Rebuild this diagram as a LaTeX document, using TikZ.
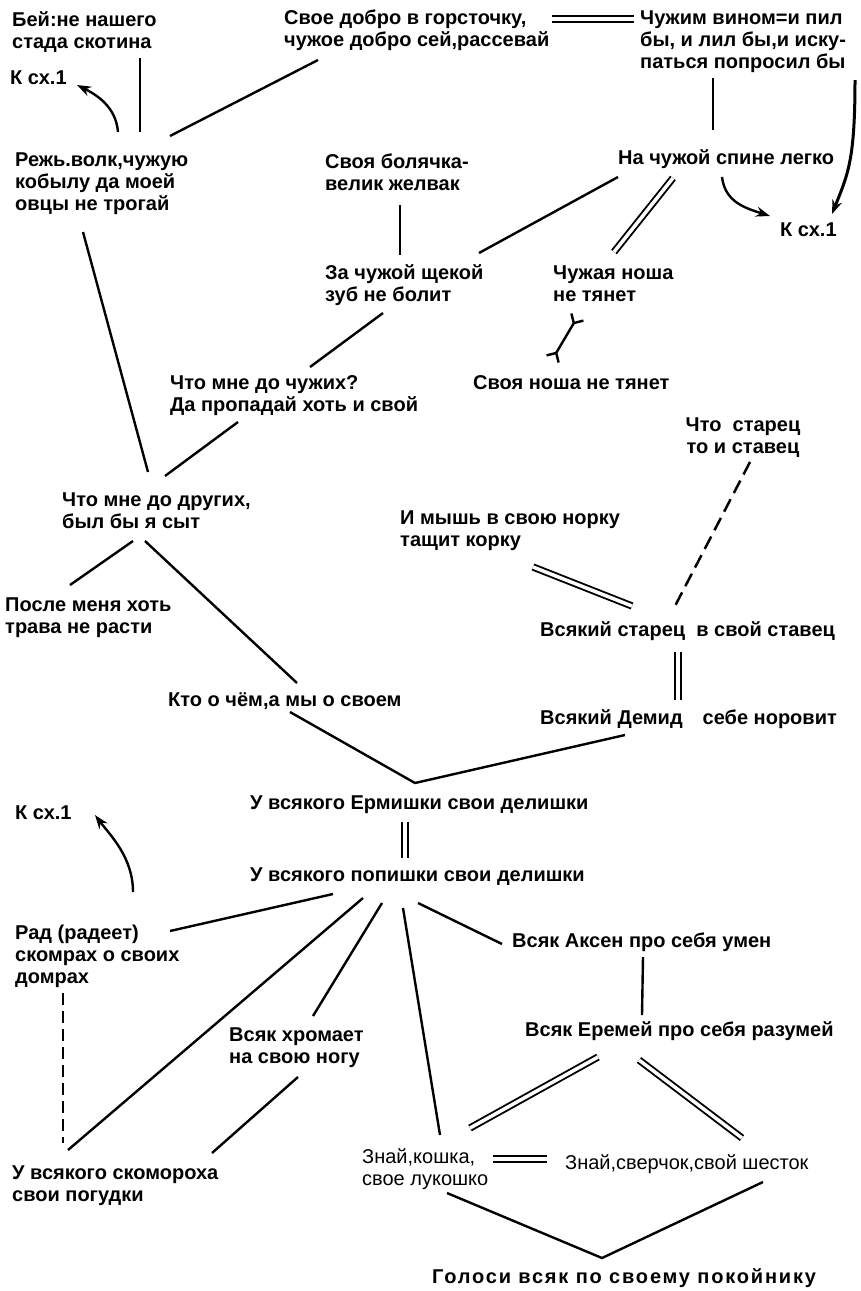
\documentclass[tikz,border=0pt]{standalone}
\usepackage{fontspec}
\setmainfont{Liberation Sans}
\usetikzlibrary{arrows.meta}
\begin{document}
\begin{tikzpicture}[x=1pt,y=-1pt,
  txt/.style={inner sep=0pt, anchor=base west, align=left, font=\fontsize{20}{22}\selectfont\bfseries},
  txtr/.style={txt, font=\fontsize{20}{22}\selectfont},
  ln/.style={line width=2.4pt},
  dbl/.style={double, double distance=3.5pt, line width=1.9pt},
  arr/.style={line width=2.4pt, -{Stealth[length=14pt,width=10pt]}},
  dsh/.style={line width=2.5pt, dash pattern=on 14pt off 7pt},
  fork/.style={line width=2.4pt, {Straight Barb[reversed,length=7pt,width=14pt]}-{Straight Barb[reversed,length=7pt,width=14pt]}}
]
\useasboundingbox[fill=white] (0,0) rectangle (860,1291);

% multi-line nodes are placed at the baseline of their LAST line
\node[txt] (bei) at (12,48) {Бей:не нашего\\стада скотина};
\node[txt] (kcx1a) at (10,84) {К сх.1};
\node[txt] (svoe) at (284,46) {Свое добро в горсточку,\\чужое добро сей,рассевай};
\node[txt] (chuzhim) at (640,68) {Чужим вином=и пил\\бы, и лил бы,и иску-\\паться попросил бы};
\node[txt] (rezh) at (15,210) {Режь.волк,чужую\\кобылу да моей\\овцы не трогай};
\node[txt] (bol) at (325,190) {Своя болячка-\\велик желвак};
\node[txt] (spine) at (618,164) {На чужой спине легко};
\node[txt] (kcx1b) at (780,236) {К сх.1};
\node[txt] (shch) at (325,301) {За чужой щекой\\зуб не болит};
\node[txt] (chn) at (553,301) {Чужая ноша\\не тянет};
\node[txt] (svn) at (473,389) {Своя ноша не тянет};
\node[txt] (chuzhih) at (170,411) {Что мне до чужих?\\Да пропадай хоть и свой};
\node[txt, anchor=base, align=center] (starets) at (743,453) {Что\ \ старец\\то и ставец};
\node[txt] (drugih) at (62,528) {Что мне до других,\\был бы я сыт};
\node[txt] (mysh) at (400,546) {И мышь в свою норку\\тащит корку};
\node[txt] (posle) at (5,633) {После меня хоть\\трава не расти};
\node[txt] (vsst) at (540,636) {Всякий старец\ \ в свой ставец};
\node[txt] (ktoo) at (168,706) {Кто о чём,а мы о своем};
\node[txt] (demid) at (540,724) {Всякий Демид\quad себе норовит};
\node[txt] (ermish) at (250,809) {У всякого Ермишки свои делишки};
\node[txt] (kcx1c) at (15,819) {К сх.1};
\node[txt] (popish) at (250,881) {У всякого попишки свои делишки};
\node[txt] (rad) at (15,983) {Рад (радеет)\\скомрах о своих\\домрах};
\node[txt] (aksen) at (512,947) {Всяк Аксен про себя умен};
\node[txt] (eremei) at (525,1036) {Всяк Еремей про себя разумей};
\node[txt] (hrom) at (229,1063) {Всяк хромает\\на свою ногу};
\node[txt] (skom) at (12,1201) {У всякого скомороха\\свои погудки};
\node[txtr] (koshka) at (362,1185) {Знай,кошка,\\свое лукошко};
\node[txtr] (sverch) at (565,1169) {Знай,сверчок,свой шесток};
\node[txt, font=\fontsize{20}{22}\selectfont\bfseries\addfontfeatures{LetterSpace=9}] (golosi) at (432,1283) {Голоси всяк по своему покойнику};

% top part
\draw[ln] ([shift={(128,10)}]bei.base west) -- ([shift={(125,-78)}]rezh.base west);
\draw[ln] ([shift={(34,14)}]svoe.base west) -- ([shift={(155,-74)}]rezh.base west);
\draw[dbl] ([shift={(268,-27)}]svoe.base west) -- ([shift={(-6,-49)}]chuzhim.base west);
\draw[ln] ([shift={(73,10)}]chuzhim.base west) -- ([shift={(95,-34)}]spine.base west);
\draw[arr, line width=3pt] ([shift={(215,12)}]chuzhim.base west) .. controls +(0,80) and +(16,-40) .. ([shift={(52,-22)}]kcx1b.base west);
\draw[arr] ([shift={(104,13)}]spine.base west) .. controls +(3,25) and +(-25,-8) .. ([shift={(-10,-20)}]kcx1b.base west);
\draw[arr] ([shift={(103,-78)}]rezh.base west) .. controls +(-2,-25) and +(20,10) .. ([shift={(67,1)}]kcx1a.base west);
\draw[ln] ([shift={(75,15)}]bol.base west) -- ([shift={(75,-46)}]shch.base west);
\draw[ln] ([shift={(0,13)}]spine.base west) -- ([shift={(154,-48)}]shch.base west);
\draw[dbl] ([shift={(55,14)}]spine.base west) -- ([shift={(61,-49)}]chn.base west);
\draw[fork] ([shift={(25,15)}]chn.base west) -- ([shift={(79,-29)}]svn.base west);
\draw[ln] ([shift={(58,12)}]shch.base west) -- ([shift={(140,-44)}]chuzhih.base west);
\draw[ln] ([shift={(68,11)}]chuzhih.base west) -- ([shift={(103,-52)}]drugih.base west);
\draw[ln] ([shift={(68,22)}]rezh.base west) -- ([shift={(86,-56)}]drugih.base west);

% middle
\draw[dsh] ([shift={(7,9)}]starets.base) -- ([shift={(135,-30)}]vsst.base west);
\draw[dbl] ([shift={(133,21)}]mysh.base west) -- ([shift={(92,-30)}]vsst.base west);
\draw[dbl] ([shift={(138,16)}]vsst.base west) -- ([shift={(138,-24)}]demid.base west);
\draw[ln] ([shift={(122,6)}]ktoo.base west) -- ([shift={(165,-26)}]ermish.base west) -- ([shift={(85,11)}]demid.base west);
\draw[ln] ([shift={(71,13)}]drugih.base west) -- ([shift={(65,-48)}]posle.base west);
\draw[ln] ([shift={(83,13)}]drugih.base west) -- ([shift={(129,-23)}]ktoo.base west);
\draw[dbl] ([shift={(155,13)}]ermish.base west) -- ([shift={(155,-23)}]popish.base west);

% bottom
\draw[arr] ([shift={(118,-91)}]rad.base west) .. controls +(0,-35) and +(15,20) .. ([shift={(80,-4)}]kcx1c.base west);
\draw[ln] ([shift={(83,13)}]popish.base west) -- ([shift={(155,-52)}]rad.base west);
\draw[ln] ([shift={(113,17)}]popish.base west) -- ([shift={(56,-51)}]skom.base west);
\draw[ln] ([shift={(132,22)}]popish.base west) -- ([shift={(84,-47)}]hrom.base west);
\draw[ln] ([shift={(153,27)}]popish.base west) -- ([shift={(78,-50)}]koshka.base west);
\draw[ln] ([shift={(168,22)}]popish.base west) -- ([shift={(-10,-3)}]aksen.base west);
\draw[ln] ([shift={(131,10)}]aksen.base west) -- ([shift={(117,-21)}]eremei.base west);
\draw[dsh, dash pattern=on 12pt off 6pt] ([shift={(48,10)}]rad.base west) -- ([shift={(51,-58)}]skom.base west);
\draw[ln] ([shift={(69,14)}]hrom.base west) -- ([shift={(200,-48)}]skom.base west);
\draw[dbl] ([shift={(73,21)}]eremei.base west) -- ([shift={(108,-57)}]koshka.base west);
\draw[dbl] ([shift={(114,24)}]eremei.base west) -- ([shift={(177,-31)}]sverch.base west);
\draw[dbl] ([shift={(131,-26)}]koshka.base west) -- ([shift={(-18,-10)}]sverch.base west);
\draw[ln] ([shift={(85,8)}]koshka.base west) -- ([shift={(170,-25)}]golosi.base west) -- ([shift={(198,13)}]sverch.base west);
\end{tikzpicture}
\end{document}
